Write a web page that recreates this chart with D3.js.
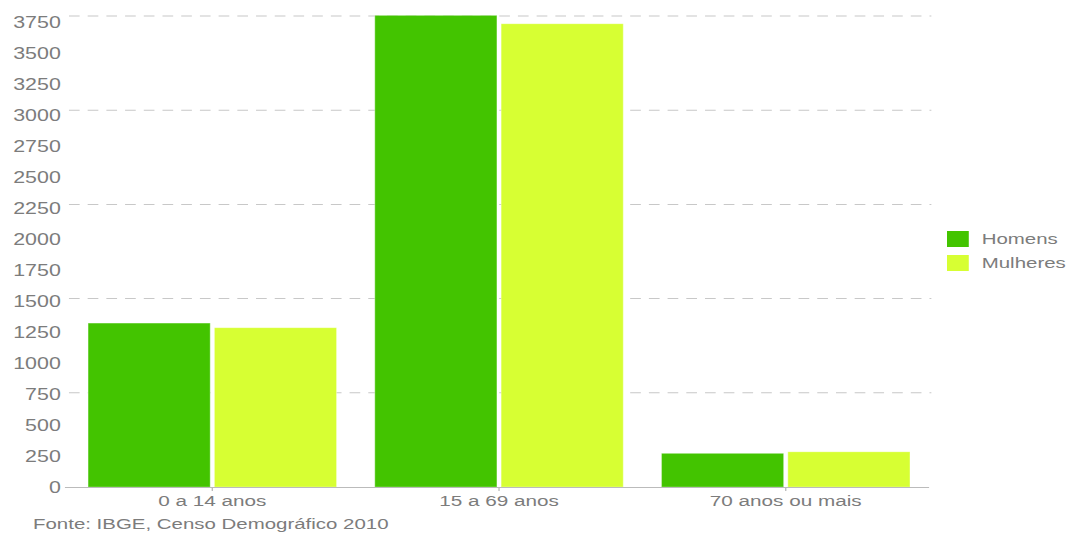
<!DOCTYPE html>
<html>
<head>
    <meta charset="utf-8">
    <script src="https://d3js.org/d3.v7.min.js"></script>
    <style>
        body { margin: 0; background: #fff; font-family: 'Liberation Sans', Arial, sans-serif; }
        svg text { fill: #7c7c7c; }
    </style>
</head>
<body>
    <div id="chart"></div>
    <script>
        // dados
        const categorias = ["0 a 14 anos", "15 a 69 anos", "70 anos ou mais"];
        const series = ["Homens", "Mulheres"];
        const homens = [1305, 3755, 268];
        const mulheres = [1268, 3688, 280];
        const yTicks = [0, 250, 500, 750, 1000, 1250, 1500, 1750, 2000, 2250, 2500, 2750, 3000, 3250, 3500, 3750];
        const gridTicks = [750, 1500, 2250, 3000, 3750];
        const cores = { "Homens": "#43c400", "Mulheres": "#d7ff33" };
        const fonte = "Fonte: IBGE, Censo Demográfico 2010";

        // o gráfico original foi desenhado em 800px e esticado para 1069px
        const W = 800, H = 534;
        const svg = d3.select("#chart").append("svg")
            .attr("width", 1069).attr("height", 534)
            .attr("viewBox", `0 0 ${W} ${H}`)
            .attr("preserveAspectRatio", "none");

        const x0 = d3.scaleBand().domain(categorias).range([51.6, 695.3]);
        const x1 = d3.scaleBand().domain(series)
            .range([14.3, x0.bandwidth() - 14.3]).paddingInner(0.033);
        const y = d3.scaleLinear().domain([0, 3750]).range([487, 16]);
        const yLabel = d3.scaleLinear().domain([0, 3750]).range([488, 22.5]);

        // grade tracejada
        svg.append("g").selectAll("line").data(gridTicks).join("line")
            .attr("x1", 51.6).attr("x2", 697)
            .attr("y1", d => y(d)).attr("y2", d => y(d))
            .attr("stroke", "#c8c8c8").attr("stroke-width", 1)
            .attr("stroke-dasharray", "8,6");

        // rótulos do eixo y
        svg.append("g").selectAll("text").data(yTicks).join("text")
            .attr("x", 45.5).attr("y", d => yLabel(d))
            .attr("text-anchor", "end").attr("dominant-baseline", "central")
            .style("font-size", "16px")
            .text(d => d);

        // barras
        const dados = categorias.map((c, i) => ({ cat: c, vals: [
            { s: "Homens", v: homens[i] }, { s: "Mulheres", v: mulheres[i] }] }));

        svg.append("g").selectAll("g").data(dados).join("g")
            .attr("transform", d => `translate(${x0(d.cat)},0)`)
            .selectAll("rect").data(d => d.vals).join("rect")
            .attr("x", d => x1(d.s))
            .attr("width", x1.bandwidth())
            .attr("y", d => y(d.v))
            .attr("height", d => y(0) - y(d.v))
            .attr("fill", d => cores[d.s])
            .attr("stroke", "rgba(255,255,255,0.35)").attr("stroke-width", 0.8);

        // eixo x
        const xAxis = svg.append("g").attr("transform", `translate(0,${y(0)})`)
            .call(d3.axisBottom(x0).tickSize(4).tickSizeOuter(0).tickPadding(4));
        xAxis.select(".domain").attr("stroke", "#bbb").attr("d", "M48.6,0.5H695.3");
        xAxis.selectAll(".tick line").attr("stroke", "#bbb");
        xAxis.selectAll(".tick text").style("font-size", "15.5px")
            .style("font-family", "'Liberation Sans', Arial, sans-serif").attr("fill", "#7c7c7c");

        // legenda
        const leg = svg.append("g").selectAll("g").data(series).join("g")
            .attr("transform", (d, i) => `translate(708.7,${231 + i * 24})`);
        leg.append("rect").attr("width", 16.3).attr("height", 16).attr("fill", d => cores[d]);
        leg.append("text").attr("x", 26).attr("y", 8).attr("dominant-baseline", "central")
            .style("font-size", "15.3px").text(d => d);

        // fonte
        svg.append("text").attr("x", 24.7).attr("y", 524)
            .attr("dominant-baseline", "central").style("font-size", "15.3px")
            .text(fonte);
    </script>
</body>
</html>
